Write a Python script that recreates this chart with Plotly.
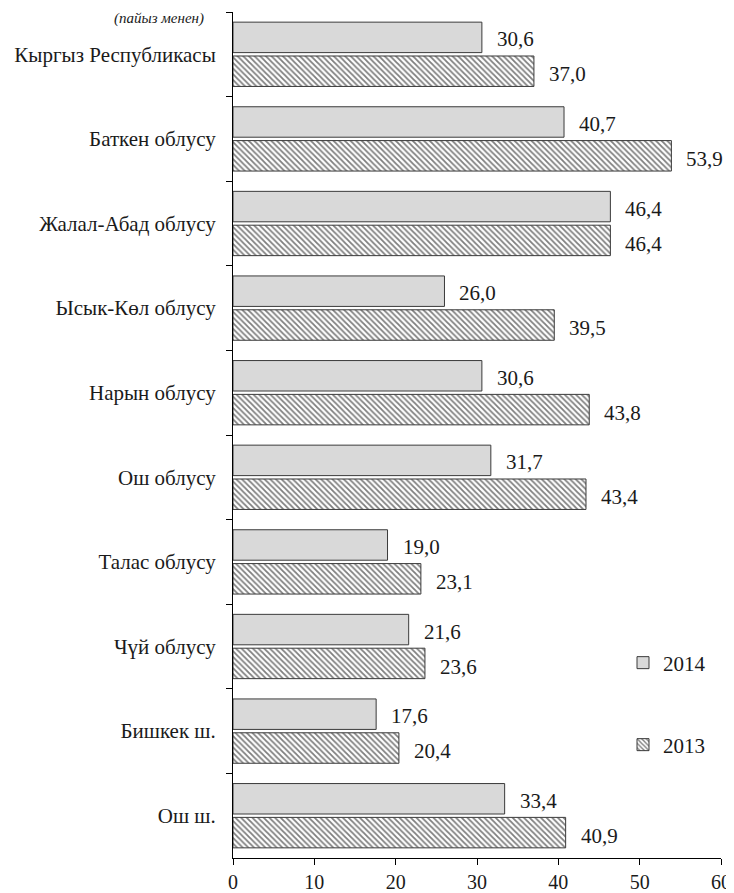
import plotly.graph_objects as go

categories = ["Кыргыз Республикасы", "Баткен облусу", "Жалал-Абад облусу", "Ысык-Көл облусу",
              "Нарын облусу", "Ош облусу", "Талас облусу", "Чүй облусу", "Бишкек ш.", "Ош ш."]
values_2014 = [30.6, 40.7, 46.4, 26.0, 30.6, 31.7, 19.0, 21.6, 17.6, 33.4]
values_2013 = [37.0, 53.9, 46.4, 39.5, 43.8, 43.4, 23.1, 23.6, 20.4, 40.9]
x_ticks = [0, 10, 20, 30, 40, 50, 60]
subtitle = "(пайыз менен)"

FONT = "Liberation Serif, Times, serif"
TXT = "#1a1a1a"

fig = go.Figure()
fig.add_trace(go.Bar(
    y=categories, x=values_2014, orientation="h", name="2014",
    marker=dict(color="#d9d9d9", line=dict(color="#3a3a3a", width=1)),
    legend="legend",
))
fig.add_trace(go.Bar(
    y=categories, x=values_2013, orientation="h", name="2013",
    marker=dict(color="white", line=dict(color="#3a3a3a", width=1),
                pattern=dict(shape="\\", fgcolor="black", bgcolor="white", size=4, solidity=0.45)),
    legend="legend2",
))

def fmt(v):
    return f"{v:.1f}".replace(".", ",")

annotations = []
for c, v in zip(categories, values_2014):
    annotations.append(dict(x=v, y=c, xref="x", yref="y", text=fmt(v), showarrow=False,
                            xanchor="left", yanchor="middle", xshift=13, yshift=15,
                            font=dict(family=FONT, size=21, color=TXT)))
for c, v in zip(categories, values_2013):
    annotations.append(dict(x=v, y=c, xref="x", yref="y", text=fmt(v), showarrow=False,
                            xanchor="left", yanchor="middle", xshift=13, yshift=-20,
                            font=dict(family=FONT, size=21, color=TXT)))
annotations.append(dict(x=(159 - 233) / 488, y=1 + 4 / 846, xref="paper", yref="paper",
                        text=f"<i>{subtitle}</i>", showarrow=False,
                        xanchor="center", yanchor="top",
                        font=dict(family=FONT, size=15, color=TXT)))

fig.update_layout(
    annotations=annotations,
    width=726, height=885,
    margin=dict(l=225, r=13, t=4, b=35, autoexpand=False),
    paper_bgcolor="white", plot_bgcolor="white",
    barmode="group", bargap=0.2, bargroupgap=0.1,
    font=dict(family=FONT, size=20, color=TXT),
    showlegend=True,
    legend=dict(x=(623 - 233) / 488, y=(858 - 663) / 846, xanchor="left", yanchor="middle",
                bgcolor="rgba(0,0,0,0)", font=dict(family=FONT, size=21, color=TXT)),
    legend2=dict(x=(623 - 233) / 488, y=(858 - 745) / 846, xanchor="left", yanchor="middle",
                 bgcolor="rgba(0,0,0,0)", font=dict(family=FONT, size=21, color=TXT)),
    xaxis=dict(range=[0, 60], tickvals=x_ticks, ticks="outside", ticklen=6, tickcolor="black",
               showline=True, linecolor="black", linewidth=1, showgrid=False, zeroline=False,
               automargin=False,
               tickfont=dict(family=FONT, size=20, color=TXT)),
    yaxis=dict(categoryorder="array", categoryarray=categories, autorange="reversed",
               ticks="outside", ticklen=6, tickcolor="black", tickson="boundaries",
               showline=True, linecolor="black", linewidth=1, showgrid=False,
               ticklabelstandoff=12, automargin=False,
               tickfont=dict(family=FONT, size=21, color=TXT)),
)

fig.write_html("out.html")
